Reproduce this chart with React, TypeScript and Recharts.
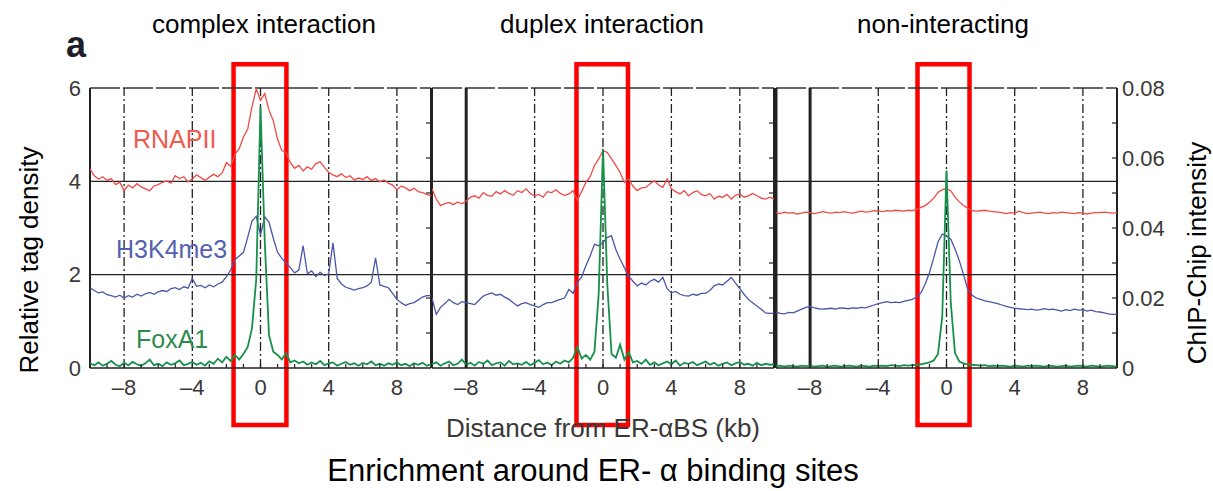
import { LineChart, Line, XAxis, YAxis, ReferenceLine, ReferenceArea } from 'recharts';

const FONT = '"Liberation Sans", Arial, Helvetica, sans-serif';
const INK = '#222';
const TICK_INK = '#3b3838';

// axis ticks
const distanceTicks = [-8, -4, 0, 4, 8];
const minorDistanceTicks = [-9, -8, -7, -6, -5, -4, -3, -2, -1, 0, 1, 2, 3, 4, 5, 6, 7, 8, 9];
const densityTicks = [0, 2, 4, 6];
const chipTicks = [0, 0.02, 0.04, 0.06, 0.08];
const minorChipTicks = [0.01, 0.02, 0.03, 0.04, 0.05, 0.06, 0.07];

const panelTitles = ['complex interaction', 'duplex interaction', 'non-interacting'];

// profiles sampled every 0.25 kb from -10 to 10 (one row = 1 kb)
const complexRnapii = [
  4.27, 4.12, 4.05, 4.10,
  4.02, 4.06, 3.93, 3.98,
  3.80, 3.92, 3.86, 3.95,
  3.88, 3.84, 3.80, 3.90,
  3.93, 3.98, 4.01, 3.96,
  4.12, 4.06, 4.10, 3.99,
  4.05, 4.14, 4.08, 4.02,
  4.09, 4.15, 4.10, 4.18,
  4.40, 4.32, 4.58, 4.70,
  4.95, 5.12, 5.60, 5.98,
  5.74, 5.88, 5.52, 5.30,
  4.90, 4.66, 4.62, 4.40,
  4.28, 4.34, 4.22, 4.31,
  4.26, 4.38, 4.42, 4.30,
  4.19, 4.14, 4.10, 4.16,
  4.08, 4.12, 4.03, 4.07,
  4.04, 4.10, 4.02, 4.06,
  3.99, 4.03, 3.96, 3.92,
  3.82, 3.90, 3.86, 3.80,
  3.85, 3.78, 3.76, 3.72,
  3.69,
];
const complexH3k4me3 = [
  1.72, 1.66, 1.61, 1.63,
  1.57, 1.55, 1.52, 1.56,
  1.50, 1.55, 1.52, 1.58,
  1.54, 1.59, 1.62, 1.58,
  1.63, 1.66, 1.64, 1.70,
  1.72, 1.68, 1.74, 1.71,
  1.92, 1.75, 1.77, 1.72,
  1.78, 1.74, 1.80, 1.84,
  1.96, 2.10, 2.32, 2.40,
  2.48, 2.80, 3.15, 3.25,
  2.85, 3.24, 3.12, 2.78,
  2.48, 2.35, 2.25, 2.15,
  2.04, 2.10, 2.62, 2.02,
  2.08, 1.96, 2.05, 1.98,
  2.02, 2.68, 1.92, 1.80,
  1.73, 1.70, 1.67, 1.70,
  1.72, 1.76, 1.84, 2.36,
  1.78, 1.75, 1.72, 1.60,
  1.47, 1.40, 1.34, 1.38,
  1.40, 1.46, 1.52, 1.55,
  1.55,
];
const complexFoxa1 = [
  0.10, 0.06, 0.12, 0.05,
  0.09, 0.15, 0.07, 0.04,
  0.11, 0.06, 0.13, 0.08,
  0.05, 0.10, 0.18, 0.06,
  0.09, 0.04, 0.12, 0.07,
  0.10, 0.16, 0.06, 0.09,
  0.13, 0.07, 0.11, 0.05,
  0.14, 0.09, 0.20, 0.12,
  0.24, 0.15, 0.28, 0.18,
  0.30, 0.45, 0.85, 1.90,
  5.60, 2.70, 0.70, 0.35,
  0.28, 0.18, 0.32, 0.12,
  0.16, 0.10, 0.14, 0.07,
  0.12, 0.08, 0.15, 0.06,
  0.10, 0.12, 0.05, 0.09,
  0.13, 0.07, 0.10, 0.05,
  0.11, 0.08, 0.14, 0.06,
  0.09, 0.05, 0.10, 0.07,
  0.12, 0.06, 0.09, 0.04,
  0.10, 0.07, 0.11, 0.05,
  0.08,
];

const duplexRnapii = [
  3.84, 3.62, 3.48, 3.52,
  3.55, 3.50, 3.56, 3.52,
  3.58, 3.66, 3.69, 3.64,
  3.76, 3.70, 3.68, 3.78,
  3.73, 3.80, 3.74, 3.70,
  3.80, 3.76, 3.84, 3.74,
  3.69, 3.72, 3.66, 3.78,
  3.76, 3.82, 3.74, 3.70,
  3.73, 3.80, 3.60, 3.78,
  3.98, 4.10, 4.34, 4.48,
  4.66, 4.62, 4.48, 4.34,
  4.19, 3.98, 4.05, 3.90,
  3.80, 3.86, 3.87, 3.95,
  4.01, 3.92, 3.87, 4.05,
  3.84, 3.78, 3.73, 3.80,
  3.69, 3.76, 3.80, 3.72,
  3.69, 3.74, 3.62, 3.68,
  3.66, 3.72, 3.62, 3.70,
  3.73, 3.66, 3.69, 3.74,
  3.69, 3.64, 3.62, 3.66,
  3.62,
];
const duplexH3k4me3 = [
  1.50, 1.15, 1.30, 1.38,
  1.47, 1.40, 1.36, 1.42,
  1.40, 1.38, 1.36, 1.45,
  1.54, 1.58, 1.61, 1.56,
  1.58, 1.52, 1.47, 1.40,
  1.33, 1.38, 1.40, 1.36,
  1.33, 1.30, 1.36, 1.40,
  1.40, 1.44, 1.47, 1.50,
  1.68, 1.60, 1.83, 1.95,
  2.19, 2.40, 2.65, 2.62,
  2.69, 2.80, 2.83, 2.54,
  2.33, 2.15, 1.97, 1.86,
  1.76, 1.82, 1.78, 1.86,
  1.90, 1.84, 1.94, 1.70,
  1.61, 1.64, 1.58, 1.55,
  1.54, 1.58, 1.56, 1.60,
  1.60, 1.66, 1.76, 1.80,
  1.78, 1.86, 1.94, 1.82,
  1.70, 1.58, 1.47, 1.40,
  1.33, 1.26, 1.18, 1.17,
  1.17,
];
const duplexFoxa1 = [
  0.08, 0.12, 0.05, 0.10,
  0.14, 0.06, 0.09, 0.18,
  0.07, 0.11, 0.05, 0.13,
  0.09, 0.16, 0.06, 0.10,
  0.12, 0.05, 0.15, 0.08,
  0.10, 0.07, 0.13, 0.06,
  0.11, 0.17, 0.08, 0.12,
  0.06, 0.14, 0.09, 0.16,
  0.12, 0.22, 0.45, 0.20,
  0.28, 0.18, 0.35, 1.60,
  4.70, 1.80, 0.30, 0.22,
  0.50, 0.18, 0.34, 0.12,
  0.15, 0.09, 0.18, 0.07,
  0.12, 0.06, 0.10, 0.14,
  0.08, 0.16, 0.05, 0.11,
  0.09, 0.13, 0.06, 0.10,
  0.14, 0.07, 0.11, 0.05,
  0.09, 0.12, 0.06, 0.10,
  0.13, 0.07, 0.09, 0.05,
  0.11, 0.06, 0.09, 0.07,
  0.08,
];

const nonRnapii = [
  3.33, 3.31, 3.34, 3.32,
  3.33, 3.30, 3.32, 3.34,
  3.33, 3.31, 3.33, 3.35,
  3.33, 3.32, 3.34, 3.33,
  3.35, 3.33, 3.32, 3.34,
  3.36, 3.34, 3.35, 3.37,
  3.36, 3.35, 3.37, 3.36,
  3.38, 3.37, 3.36, 3.38,
  3.37, 3.40, 3.44, 3.48,
  3.55, 3.64, 3.76, 3.82,
  3.84, 3.80, 3.66, 3.56,
  3.48, 3.42, 3.37, 3.36,
  3.37, 3.38, 3.36, 3.35,
  3.34, 3.33, 3.31, 3.33,
  3.32, 3.36, 3.33, 3.31,
  3.32, 3.33, 3.34, 3.32,
  3.31, 3.33, 3.32, 3.34,
  3.33, 3.32, 3.31, 3.33,
  3.32, 3.30, 3.32, 3.33,
  3.33, 3.34, 3.33, 3.32,
  3.33,
];
const nonH3k4me3 = [
  1.20, 1.17, 1.16, 1.19,
  1.18, 1.22, 1.26, 1.30,
  1.32, 1.29, 1.27, 1.26,
  1.27, 1.28, 1.26, 1.29,
  1.28, 1.27, 1.29, 1.28,
  1.30, 1.29, 1.32, 1.35,
  1.38, 1.40, 1.42, 1.40,
  1.41, 1.40, 1.43, 1.45,
  1.47, 1.52, 1.61, 1.80,
  2.04, 2.36, 2.70, 2.87,
  2.83, 2.76, 2.55, 2.30,
  2.00, 1.68, 1.56, 1.50,
  1.47, 1.44, 1.42, 1.40,
  1.38, 1.35, 1.32, 1.30,
  1.28, 1.27, 1.26, 1.25,
  1.26, 1.24, 1.25, 1.27,
  1.25, 1.26, 1.24, 1.22,
  1.25, 1.23, 1.26, 1.24,
  1.25, 1.22, 1.24, 1.21,
  1.20, 1.18, 1.16, 1.15,
  1.15,
];
const nonFoxa1 = [
  0.04, 0.05, 0.03, 0.05,
  0.04, 0.03, 0.05, 0.04,
  0.05, 0.03, 0.04, 0.05,
  0.03, 0.04, 0.05, 0.03,
  0.04, 0.05, 0.04, 0.03,
  0.05, 0.04, 0.03, 0.05,
  0.04, 0.05, 0.04, 0.06,
  0.05, 0.04, 0.06, 0.05,
  0.06, 0.07, 0.08, 0.10,
  0.12, 0.16, 0.30, 1.10,
  4.23, 1.40, 0.32, 0.14,
  0.10, 0.08, 0.07, 0.06,
  0.05, 0.06, 0.04, 0.05,
  0.04, 0.05, 0.04, 0.03,
  0.05, 0.04, 0.03, 0.05,
  0.04, 0.05, 0.04, 0.03,
  0.05, 0.04, 0.03, 0.04,
  0.05, 0.03, 0.04, 0.05,
  0.04, 0.03, 0.05, 0.04,
  0.03, 0.04, 0.05, 0.04,
  0.03,
];

// sampling positions (kb)
const positions = Array.from({ length: 81 }, (_, i) => -10 + i * 0.25);

const buildRows = (rnapii: number[], h3k4me3: number[], foxa1: number[]) =>
  positions.map((x, i) => ({ x, rnapii: rnapii[i], h3k4me3: h3k4me3[i], foxa1: foxa1[i] }));

const panelRows = [
  buildRows(complexRnapii, complexH3k4me3, complexFoxa1),
  buildRows(duplexRnapii, duplexH3k4me3, duplexFoxa1),
  buildRows(nonRnapii, nonH3k4me3, nonFoxa1),
];

// red highlight boxes around the binding site (in kb / density units)
const highlightBoxes = [
  { x1: -1.58, x2: 1.52 },
  { x1: -1.55, x2: 1.46 },
  { x1: -1.7, x2: 1.35 },
];

const panelLayout = [
  { left: 0, width: 440, margin: { top: 88, right: 9, bottom: 93, left: 50 }, titleX: 264 },
  { left: 420, width: 365, margin: { top: 88, right: 11, bottom: 93, left: 12 }, titleX: 602 },
  { left: 765, width: 448, margin: { top: 88, right: 36, bottom: 93, left: 11 }, titleX: 943 },
];

const fmtDistance = (v: number) => (v < 0 ? `\u2013${Math.abs(v)}` : `${v}`);
const fmtChip = (v: number) => (v === 0 ? '0' : v.toFixed(2));
// minor tick axes: keep the tick marks, drop the labels
const NoLabel = () => <g />;

function Panel({ index }: { index: number }) {
  const layout = panelLayout[index];
  const box = highlightBoxes[index];
  const first = index === 0;
  const last = index === panelLayout.length - 1;

  return (
    <div style={{ position: 'absolute', left: layout.left, top: 0 }}>
      <LineChart width={layout.width} height={491} data={panelRows[index]} margin={layout.margin}>
        <XAxis
          xAxisId="d"
          type="number"
          dataKey="x"
          domain={[-10, 10]}
          allowDataOverflow
          ticks={distanceTicks}
          interval={0}
          tickFormatter={fmtDistance}
          height={30}
          tickSize={0}
          tickMargin={11}
          axisLine={{ stroke: INK, strokeWidth: 1.5 }}
          tick={{ fontSize: 22, fill: TICK_INK }}
        />
        <XAxis
          xAxisId="m"
          type="number"
          dataKey="x"
          domain={[-10, 10]}
          allowDataOverflow
          ticks={minorDistanceTicks}
          interval={0}
          mirror
          tick={NoLabel}
          tickSize={4}
          axisLine={false}
          tickLine={{ stroke: INK, strokeWidth: 1.2 }}
        />
        <YAxis
          yAxisId="l"
          type="number"
          domain={[0, 6]}
          allowDataOverflow
          ticks={densityTicks}
          interval={0}
          hide={!first}
          width={40}
          tickSize={0}
          tickMargin={9}
          axisLine={false}
          tick={{ fontSize: 22, fill: TICK_INK }}
        />
        <YAxis
          yAxisId="m"
          orientation="right"
          type="number"
          domain={[0, 0.08]}
          allowDataOverflow
          ticks={minorChipTicks}
          interval={0}
          mirror
          tick={NoLabel}
          tickSize={5}
          axisLine={false}
          tickLine={{ stroke: INK, strokeWidth: 1.2 }}
        />
        {last && (
          <YAxis
            yAxisId="r"
            orientation="right"
            type="number"
            domain={[0, 0.08]}
            allowDataOverflow
            ticks={chipTicks}
            interval={0}
            width={60}
            tickSize={0}
            tickMargin={5}
            axisLine={false}
            tickFormatter={fmtChip}
            tick={{ fontSize: 22, fill: TICK_INK, textAnchor: 'start' }}
          />
        )}

        {/* frame + grid */}
        <ReferenceLine xAxisId="d" yAxisId="l" y={6} stroke="#333" strokeWidth={1.5} strokeDasharray="30 3" />
        <ReferenceLine xAxisId="d" yAxisId="l" y={4} stroke={INK} strokeWidth={1.2} />
        <ReferenceLine xAxisId="d" yAxisId="l" y={2} stroke={INK} strokeWidth={1.2} />
        <ReferenceLine xAxisId="d" yAxisId="l" x={-10} stroke={INK} strokeWidth={last ? 3 : 2} />
        <ReferenceLine xAxisId="d" yAxisId="l" x={10} stroke={INK} strokeWidth={2} />
        {distanceTicks.map((t) =>
          !first && t === -8 ? (
            <ReferenceLine key={t} xAxisId="d" yAxisId="l" x={t} stroke={INK} strokeWidth={3} />
          ) : (
            <ReferenceLine key={t} xAxisId="d" yAxisId="l" x={t} stroke={INK} strokeWidth={1.3} strokeDasharray="9 3 2 3" />
          )
        )}

        <Line xAxisId="d" yAxisId="l" dataKey="rnapii" stroke="#ef4a45" strokeWidth={1.3} dot={false} isAnimationActive={false} />
        <Line xAxisId="d" yAxisId="l" dataKey="h3k4me3" stroke="#4b56a8" strokeWidth={1.3} dot={false} isAnimationActive={false} />
        <Line xAxisId="d" yAxisId="l" dataKey="foxa1" stroke="#17904a" strokeWidth={1.8} dot={false} isAnimationActive={false} />

        <ReferenceArea
          xAxisId="d"
          yAxisId="l"
          x1={box.x1}
          x2={box.x2}
          y1={-1.22}
          y2={6.51}
          fill="none"
          stroke="#ff0000"
          strokeWidth={4.5}
          ifOverflow="visible"
        />
      </LineChart>
    </div>
  );
}

export default function App() {
  return (
    <div style={{ position: 'absolute', left: 0, top: 0, width: 1213, height: 491, background: '#fff', fontFamily: FONT }}>
      {panelLayout.map((_, i) => (
        <Panel key={i} index={i} />
      ))}
      <svg width={1213} height={491} style={{ position: 'absolute', left: 0, top: 0, pointerEvents: 'none' }} fontFamily={FONT}>
        <text x={66} y={57} fontSize={36} fontWeight="bold" fill="#1e1e2a">a</text>
        {panelTitles.map((t, i) => (
          <text key={t} x={panelLayout[i].titleX} y={33} fontSize={26} textAnchor="middle" fill="#000">{t}</text>
        ))}
        <text x={133} y={148} fontSize={25} fill="#f05a4f">RNAPII</text>
        <text x={116} y={258} fontSize={25} fill="#5560b0">H3K4me3</text>
        <text x={136} y={348} fontSize={25} fill="#2e8b4e">FoxA1</text>
        <text transform="translate(38,260) rotate(-90)" fontSize={26} textAnchor="middle" fill="#000">Relative tag density</text>
        <text transform="translate(1206,253) rotate(-90)" fontSize={26} textAnchor="middle" fill="#000">ChIP-Chip intensity</text>
        <text x={603} y={437} fontSize={26} textAnchor="middle" fill={TICK_INK}>Distance from ER-αBS (kb)</text>
        <text x={593} y={481} fontSize={31} textAnchor="middle" fill="#000">Enrichment around ER- α binding sites</text>
      </svg>
    </div>
  );
}
